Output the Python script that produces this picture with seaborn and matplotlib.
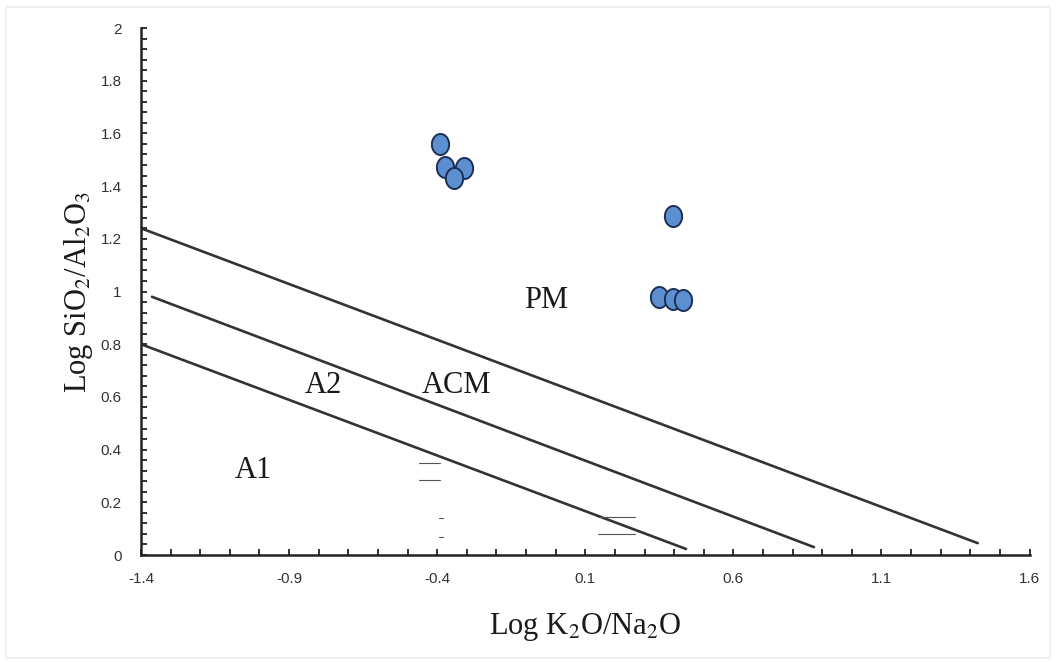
import numpy as np
import pandas as pd
import matplotlib
matplotlib.use("Agg")
import matplotlib.pyplot as plt
import seaborn as sns
from matplotlib.path import Path
from matplotlib.ticker import MultipleLocator
from matplotlib.patches import Rectangle

### Log K2O/Na2O vs Log SiO2/Al2O3 tectonic discrimination diagram

# sample points
log_k2o_na2o = [-0.389, -0.372, -0.308, -0.342, 0.397, 0.349, 0.397, 0.430]
log_sio2_al2o3 = [1.558, 1.474, 1.467, 1.430, 1.285, 0.979, 0.972, 0.968]

# field boundaries (start x, start y, end x, end y)
bound_x0 = [-1.40, -1.363, -1.40]
bound_y0 = [1.24, 0.98, 0.80]
bound_x1 = [1.425, 0.872, 0.440]
bound_y1 = [0.045, 0.030, 0.023]

# field labels
field_names = ["PM", "ACM", "A2", "A1"]
field_x = [-0.031, -0.335, -0.783, -1.019]
field_y = [0.964, 0.643, 0.643, 0.320]

# stray short strokes left in the original figure
stroke_x0 = [-0.463, -0.463, -0.395, -0.395, 0.144, 0.144]
stroke_x1 = [-0.389, -0.389, -0.380, -0.380, 0.269, 0.269]
stroke_y = [0.348, 0.284, 0.140, 0.068, 0.144, 0.079]

x_ticks = [-1.4, -0.9, -0.4, 0.1, 0.6, 1.1, 1.6]
x_ticklabels = ["-1.4", "-0.9", "-0.4", "0.1", "0.6", "1.1", "1.6"]
y_ticks = [0, 0.2, 0.4, 0.6, 0.8, 1.0, 1.2, 1.4, 1.6, 1.8, 2.0]
y_ticklabels = ["0", "0.2", "0.4", "0.6", "0.8", "1", "1.2", "1.4", "1.6", "1.8", "2"]

df = pd.DataFrame({"x": log_k2o_na2o, "y": log_sio2_al2o3})

sns.set_style("ticks")
plt.rcParams["mathtext.fontset"] = "stix"

fig = plt.figure(figsize=(10.56, 6.62), dpi=100)
fig.patches.append(Rectangle((0.006, 0.006), 0.988, 0.984, transform=fig.transFigure,
                             fill=False, edgecolor="#ececec", lw=1.2))
ax = fig.add_axes([0.1335, 0.1616, 0.8415, 0.7961])

# boundary lines
for x0, y0, x1, y1 in zip(bound_x0, bound_y0, bound_x1, bound_y1):
    ax.plot([x0, x1], [y0, y1], color="#333333", lw=1.9, solid_capstyle="round")

for x0, x1, y in zip(stroke_x0, stroke_x1, stroke_y):
    ax.plot([x0, x1], [y, y], color="#555555", lw=0.8)

# slightly tall ellipse marker
t = np.linspace(0, 2 * np.pi, 60)
ell = Path(np.column_stack([0.82 * np.cos(t), np.sin(t)]), closed=True)

sns.scatterplot(data=df, x="x", y="y", ax=ax, marker=ell, s=230,
                color="#5b8fd0", edgecolor="#1d2f55", linewidth=1.4, zorder=5)

for name, fx, fy in zip(field_names, field_x, field_y):
    ax.text(fx, fy, name, fontsize=22, family="Liberation Serif",
            color="#1a1a1a", ha="center", va="center")

ax.set_xlim(-1.4, 1.6)
ax.set_ylim(0, 2)
ax.set_xticks(x_ticks)
ax.set_xticklabels(x_ticklabels)
ax.set_yticks(y_ticks)
ax.set_yticklabels(y_ticklabels)
ax.xaxis.set_minor_locator(MultipleLocator(0.1))
ax.yaxis.set_minor_locator(MultipleLocator(0.04))
ax.tick_params(axis="both", which="both", direction="in", length=4, width=1.3,
               color="#222222", labelsize=11, labelcolor="#333333")
ax.tick_params(axis="x", which="major", pad=12)
ax.tick_params(axis="y", which="major", pad=14)
for lab in ax.get_xticklabels() + ax.get_yticklabels():
    lab.set_family("Liberation Sans")

sns.despine(ax=ax)
for side in ["left", "bottom"]:
    ax.spines[side].set_linewidth(1.8)
    ax.spines[side].set_color("#222222")

ax.set_xlabel(r"Log K$_2$O/Na$_2$O", fontsize=22, family="Liberation Serif",
              color="#1a1a1a", labelpad=18)
ax.set_ylabel(r"Log SiO$_2$/Al$_2$O$_3$", fontsize=22, family="Liberation Serif",
              color="#1a1a1a", labelpad=4)

fig.savefig("out.png", dpi=100)
